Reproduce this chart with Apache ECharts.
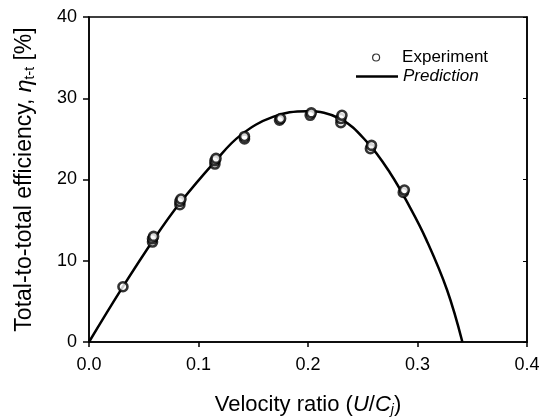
<!DOCTYPE html>
<html>
<head>
<meta charset="utf-8">
<script src="https://cdn.jsdelivr.net/npm/echarts@6/dist/echarts.min.js"></script>
<style>
  html, body { margin: 0; padding: 0; background: #fff; }
  #main { width: 559px; height: 419px; }
</style>
</head>
<body>
<div id="main"></div>
<script>
// measured points (velocity ratio, efficiency %)
var expX = [0.031, 0.058, 0.058, 0.059, 0.083, 0.083, 0.084, 0.115, 0.115, 0.116,
            0.142, 0.142, 0.174, 0.175, 0.202, 0.203, 0.230, 0.230, 0.231, 0.257, 0.258, 0.287, 0.288];
var expY = [6.8, 12.3, 12.7, 13.0, 16.9, 17.3, 17.6, 21.9, 22.3, 22.6,
            25.0, 25.3, 27.3, 27.5, 27.9, 28.2, 27.0, 27.5, 27.9, 23.8, 24.2, 18.4, 18.7];

// prediction curve
var predX = [0, 0.030, 0.060, 0.083, 0.115, 0.138, 0.168, 0.199, 0.229, 0.254, 0.275, 0.293, 0.308, 0.327, 0.341];
var predY = [0, 6.6, 12.8, 17.1, 22.2, 25.4, 27.7, 28.4, 27.5, 24.6, 20.8, 16.6, 12.6, 6.4, 0];

var xTicks = [0, 0.1, 0.2, 0.3, 0.4];
var yTicks = [0, 10, 20, 30, 40];

var font = 'Liberation Sans, Arial, sans-serif';

var chart = echarts.init(document.getElementById('main'));

var expData = expX.map(function (x, i) { return [x, expY[i]]; });
var predData = predX.map(function (x, i) { return [x, predY[i]]; });

var legendText = { fontFamily: font, fontSize: 17, color: '#000' };

chart.setOption({
  animation: false,
  backgroundColor: '#fff',
  grid: {
    left: 89, right: 32, top: 17, bottom: 77,
    outerBoundsMode: 'none',
    show: true, borderColor: '#000', borderWidth: 1.5
  },
  legend: [{
    left: 372, top: 49, padding: 0,
    itemWidth: 42, itemHeight: 7,
    textStyle: legendText,
    data: [{
      name: 'Experiment', icon: 'circle',
      itemStyle: { color: '#fff', borderColor: '#000', borderWidth: 1.2 }
    }]
  }, {
    left: 356, top: 68, padding: 0,
    itemWidth: 42, itemHeight: 2.5,
    textStyle: legendText,
    data: [{
      name: 'Prediction', icon: 'rect',
      itemStyle: { color: '#000' },
      textStyle: { fontStyle: 'italic' }
    }]
  }],
  xAxis: {
    type: 'value', min: 0, max: 0.4, interval: 0.1,
    name: '{a|Velocity ratio (}{i|U}{a|/}{i|C}{s|j}{a|)}',
    nameLocation: 'middle', nameGap: 51,
    nameTextStyle: {
      rich: {
        a: { fontFamily: font, fontSize: 22, color: '#000' },
        i: { fontFamily: font, fontSize: 22, fontStyle: 'italic', color: '#000' },
        s: { fontFamily: font, fontSize: 14, fontStyle: 'italic', color: '#000', verticalAlign: 'bottom', padding: [10, 0, 0, 0] }
      }
    },
    axisLine: { onZero: false, lineStyle: { color: '#000', width: 1.5 } },
    axisTick: { show: true, length: 5, lineStyle: { color: '#000', width: 1.5 } },
    axisLabel: {
      margin: 14, fontFamily: font, fontSize: 18, color: '#000',
      formatter: function (v) { return xTicks.indexOf(+v.toFixed(1)) >= 0 ? v.toFixed(1) : ''; }
    },
    splitLine: { show: false }
  },
  yAxis: [{
    type: 'value', min: 0, max: 40, interval: 10,
    name: '{a|Total-to-total efficiency, }{i|η}{s|t-t}{a| [%]}',
    nameLocation: 'middle', nameGap: 52,
    nameTextStyle: {
      rich: {
        a: { fontFamily: font, fontSize: 23, color: '#000' },
        i: { fontFamily: font, fontSize: 23, fontStyle: 'italic', color: '#000' },
        s: { fontFamily: font, fontSize: 14, color: '#000', verticalAlign: 'bottom', padding: [10, 0, 0, 0] }
      }
    },
    axisLine: { show: true, lineStyle: { color: '#000', width: 1.5 } },
    axisTick: { show: true, length: 6, lineStyle: { color: '#000', width: 1.5 } },
    axisLabel: {
      margin: 12, fontFamily: font, fontSize: 18, color: '#000',
      formatter: function (v) { return yTicks.indexOf(v) >= 0 ? String(v) : ''; }
    },
    splitLine: { show: false }
  }, {
    type: 'value', min: 0, max: 40, interval: 10, position: 'right',
    axisLine: { show: true, lineStyle: { color: '#000', width: 1.5 } },
    axisTick: { show: true, inside: true, length: 4, lineStyle: { color: '#000', width: 1 } },
    axisLabel: { show: false },
    splitLine: { show: false }
  }],
  series: [{
    name: 'Prediction',
    type: 'line',
    data: predData,
    smooth: 0.4,
    showSymbol: false,
    symbol: 'none',
    lineStyle: { color: '#000', width: 2.5 },
    itemStyle: { color: '#000' },
    z: 2
  }, {
    name: 'Experiment',
    type: 'scatter',
    data: expData,
    symbol: 'circle',
    symbolSize: 9,
    itemStyle: { color: '#fff', borderColor: '#000', borderWidth: 2.6 },
    z: 3
  }]
});
</script>
</body>
</html>
